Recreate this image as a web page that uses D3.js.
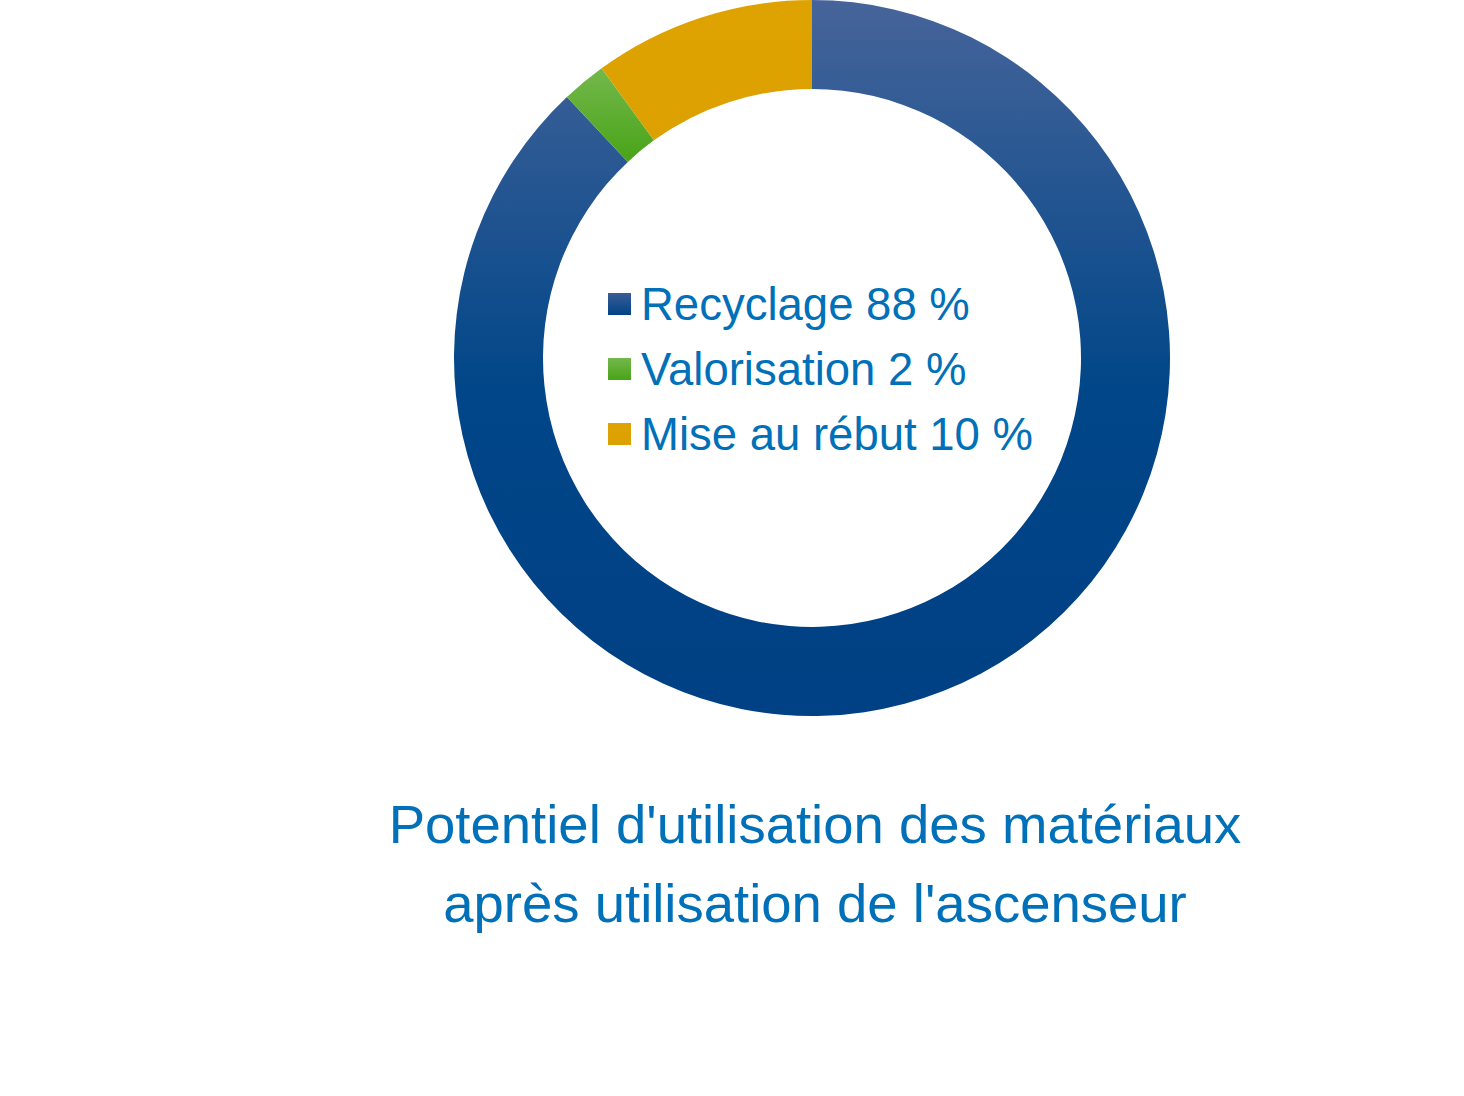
<!DOCTYPE html>
<html>
<head>
<meta charset="utf-8">
<script src="https://cdn.jsdelivr.net/npm/d3@7"></script>
<style>
  html, body { margin: 0; padding: 0; background: #fff; }
  svg { display: block; font-family: "Liberation Sans", Arial, sans-serif; }
</style>
</head>
<body>
<div id="chart"></div>
<script>
// Data
const categories = ['Recyclage', 'Valorisation', 'Mise au rébut'];
const shares = [88, 2, 10];
const legendLabels = ['Recyclage 88 %', 'Valorisation 2 %', 'Mise au rébut 10 %'];
const titleLines = ["Potentiel d'utilisation des matériaux", "après utilisation de l'ascenseur"];

const W = 1464, H = 1096;
const cx = 812, cy = 358;
const outerR = 358, innerR = 269;
const textColor = '#0070b8';

const svg = d3.select('#chart')
    .append('svg')
    .attr('width', W)
    .attr('height', H);

// Gradients
const defs = svg.append('defs');

// donut group is translated, so gradient runs in its local space
const gBlue = defs.append('linearGradient')
    .attr('id', 'grad-blue')
    .attr('gradientUnits', 'userSpaceOnUse')
    .attr('x1', 0).attr('y1', -outerR)
    .attr('x2', 0).attr('y2', outerR);
gBlue.append('stop').attr('offset', 0).attr('stop-color', '#46649a');
gBlue.append('stop').attr('offset', 0.55).attr('stop-color', '#004688');
gBlue.append('stop').attr('offset', 1).attr('stop-color', '#004084');

const gGreen = defs.append('linearGradient')
    .attr('id', 'grad-green')
    .attr('x1', 0).attr('y1', 0)
    .attr('x2', 0).attr('y2', 1);
gGreen.append('stop').attr('offset', 0).attr('stop-color', '#74b84c');
gGreen.append('stop').attr('offset', 1).attr('stop-color', '#48a417');

const gYellow = defs.append('linearGradient')
    .attr('id', 'grad-yellow')
    .attr('x1', 0).attr('y1', 0)
    .attr('x2', 0).attr('y2', 1);
gYellow.append('stop').attr('offset', 0).attr('stop-color', '#dea300');
gYellow.append('stop').attr('offset', 1).attr('stop-color', '#dca100');

// legend swatches use bbox gradients
const gBlueSw = defs.append('linearGradient')
    .attr('id', 'grad-blue-sw')
    .attr('x1', 0).attr('y1', 0)
    .attr('x2', 0).attr('y2', 1);
gBlueSw.append('stop').attr('offset', 0).attr('stop-color', '#3a5d96');
gBlueSw.append('stop').attr('offset', 1).attr('stop-color', '#004386');

const fills = d3.scaleOrdinal()
    .domain(categories)
    .range(['url(#grad-blue)', 'url(#grad-green)', 'url(#grad-yellow)']);
const swatchFills = d3.scaleOrdinal()
    .domain(categories)
    .range(['url(#grad-blue-sw)', 'url(#grad-green)', 'url(#grad-yellow)']);

const data = categories.map((c, i) => ({ cat: c, value: shares[i], label: legendLabels[i] }));

// Donut
const pie = d3.pie()
    .value(d => d.value)
    .sort(null);

const arc = d3.arc()
    .innerRadius(innerR)
    .outerRadius(outerR);

const donut = svg.append('g')
    .attr('transform', `translate(${cx},${cy})`);

donut.selectAll('path')
    .data(pie(data))
    .join('path')
    .attr('d', arc)
    .attr('fill', d => fills(d.data.cat))
    .attr('stroke', 'none');

// Legend
const legendX = 608, legendY0 = 320, legendStep = 65;
const legend = svg.append('g');

const items = legend.selectAll('g')
    .data(data)
    .join('g')
    .attr('transform', (d, i) => `translate(${legendX},${legendY0 + i * legendStep})`);

items.append('rect')
    .attr('x', 0)
    .attr('y', -27)
    .attr('width', 23)
    .attr('height', 22)
    .attr('fill', d => swatchFills(d.cat));

items.append('text')
    .attr('x', 33)
    .attr('y', 0)
    .attr('font-size', 45.5)
    .attr('fill', textColor)
    .text(d => d.label);

// Title
svg.append('g')
    .selectAll('text')
    .data(titleLines)
    .join('text')
    .attr('x', 815)
    .attr('y', (d, i) => 843 + i * 79)
    .attr('text-anchor', 'middle')
    .attr('font-size', 54.5)
    .attr('fill', textColor)
    .text(d => d);
</script>
</body>
</html>
